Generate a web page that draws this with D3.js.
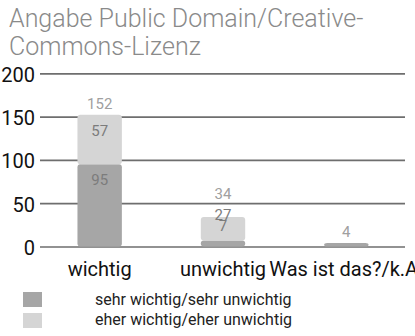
<!DOCTYPE html>
<html>
<head>
<meta charset="utf-8">
<script src="https://cdn.jsdelivr.net/npm/d3@7"></script>
<style>
  html, body { margin: 0; padding: 0; background: #fff; }
  svg text { font-family: Roboto, "Noto Sans", "DejaVu Sans", sans-serif; }
</style>
</head>
<body>
<svg id="chart" width="415" height="336"></svg>
<script>
// Survey answers per category, split into "sehr" and "eher" responses
const categories = ["wichtig", "unwichtig", "Was ist das?/k.A."];
const sehrValues = [95, 7, 4];
const eherValues = [57, 27, 0];
const totals = [152, 34, 4];
const yTicks = [0, 50, 100, 150, 200];
const legendLabels = ["sehr wichtig/sehr unwichtig", "eher wichtig/eher unwichtig"];
const colors = ["#a6a6a6", "#d5d5d5"];

const svg = d3.select("#chart");

// Title
const titleLines = ["Angabe Public Domain/Creative-", "Commons-Lizenz"];
svg.append("g").selectAll("text").data(titleLines).enter().append("text")
  .attr("x", 9)
  .attr("y", (d, i) => 27 + i * 28)
  .attr("fill", "#8a8a8a")
  .style("font-size", "25px")
  .style("font-weight", 300)
  .text(d => d);

const x = d3.scaleBand().domain(categories).range([38, 408]).paddingInner(0.64).paddingOuter(0.32);
const y = d3.scaleLinear().domain([0, 200]).range([246.5, 73.3]);

// Grid lines with tick labels
const yAxis = svg.append("g").attr("transform", "translate(40,0)")
  .call(d3.axisLeft(y).tickValues(yTicks).tickSizeOuter(0).tickSizeInner(-365).tickPadding(5));
yAxis.select(".domain").remove();
yAxis.selectAll(".tick line").attr("stroke", "#6e6e6e").attr("stroke-width", 1.7);
yAxis.selectAll(".tick text")
  .attr("fill", "#111")
  .attr("x", -5)
  .attr("dy", "0.4em")
  .style("font-size", "20px");

// Stacked bars
const stackRows = categories.map((c, i) => ({ cat: c, sehr: sehrValues[i], eher: eherValues[i] }));
const series = d3.stack().keys(["sehr", "eher"])(stackRows);

const bars = svg.append("g");
series.forEach((s, si) => {
  bars.selectAll(null).data(s.filter(d => d[1] > d[0])).enter().append("rect")
    .attr("x", d => x(d.data.cat))
    .attr("width", x.bandwidth())
    .attr("y", d => y(d[1]))
    .attr("height", d => y(d[0]) - y(d[1]))
    .attr("rx", 3)
    .attr("fill", colors[si]);
});

// Segment and total labels, stacked upward so they never overlap
const labelGroup = svg.append("g").style("font-size", "15px").attr("text-anchor", "middle");
categories.forEach((c, i) => {
  const cx = x(c) + x.bandwidth() / 2;
  const segs = [sehrValues[i], eherValues[i]];
  const nonZero = segs.filter(v => v > 0).length;
  let prev = null;
  let top = 0;
  if (nonZero > 1) {
    segs.forEach(v => {
      top += v;
      let b = Math.min(y(top) + 21, 231);
      if (prev !== null) b = Math.min(b, prev - 11);
      labelGroup.append("text").attr("x", cx).attr("y", b).attr("fill", "#7c7c7c").text(v);
      prev = b;
    });
  }
  let tb = y(totals[i]) - 6;
  if (prev !== null) tb = Math.min(tb, prev - 21);
  labelGroup.append("text").attr("x", cx).attr("y", tb).attr("fill", "#a0a0a0").text(totals[i]);
});

// Category labels
svg.append("g").selectAll("text").data(categories).enter().append("text")
  .attr("x", d => x(d) + x.bandwidth() / 2)
  .attr("y", 276)
  .attr("text-anchor", "middle")
  .attr("fill", "#111")
  .style("font-size", "20px")
  .text(d => d);

// Legend
const legend = svg.append("g");
legendLabels.forEach((t, i) => {
  legend.append("rect").attr("x", 23).attr("y", 292 + i * 21).attr("width", 19).attr("height", 15).attr("fill", colors[i]);
  legend.append("text").attr("x", 95).attr("y", 305 + i * 20).attr("fill", "#222")
    .style("font-size", "16px").text(t);
});
</script>
</body>
</html>
